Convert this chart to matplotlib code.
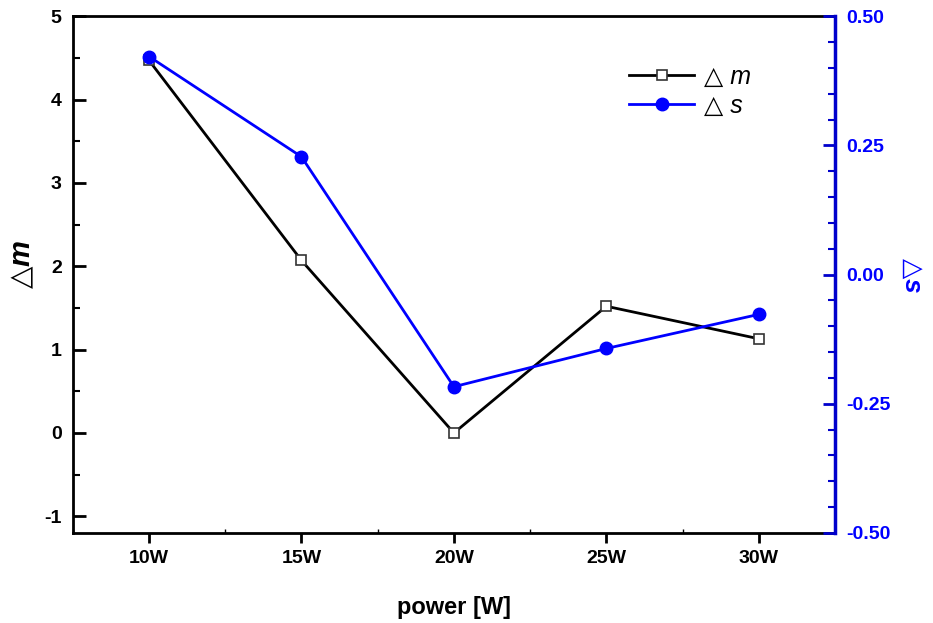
import numpy as np
import matplotlib.pyplot as plt
from matplotlib.ticker import MultipleLocator

plt.rcParams['font.family'] = ['Liberation Sans', 'DejaVu Sans']
plt.rcParams['axes.unicode_minus'] = False
plt.rcParams['mathtext.fontset'] = 'custom'
plt.rcParams['mathtext.rm'] = 'DejaVu Sans'
plt.rcParams['mathtext.it'] = 'Liberation Sans:italic:bold'

# power settings and the two measured changes
power = [10, 15, 20, 25, 30]
power_labels = ['10W', '15W', '20W', '25W', '30W']
delta_m = [4.47, 2.07, 0.0, 1.52, 1.13]
delta_s = [0.422, 0.228, -0.217, -0.143, -0.077]

fig = plt.figure(figsize=(9.33, 6.23), dpi=100)
ax = fig.add_axes([0.078, 0.1445, 0.817, 0.8295])
ax2 = ax.twinx()

l1, = ax.plot(power, delta_m, '-s', color='black', lw=2, markersize=7,
              markerfacecolor='white', markeredgecolor='#333333', markeredgewidth=1.2,
              label='\u25b3 m', zorder=3)
l2, = ax2.plot(power, delta_s, '-o', color='#0000ff', lw=2, markersize=9,
               label='\u25b3 s', zorder=3)

ax.set_xlim(7.5, 32.5)
ax.set_ylim(-1.2, 5)
ax2.set_ylim(-0.5, 0.5)

ax.set_xticks(power)
ax.set_xticklabels(power_labels)
ax.xaxis.set_minor_locator(MultipleLocator(2.5))
ax.yaxis.set_major_locator(MultipleLocator(1))
ax.yaxis.set_minor_locator(MultipleLocator(0.5))
ax2.yaxis.set_major_locator(MultipleLocator(0.25))
ax2.yaxis.set_minor_locator(MultipleLocator(0.05))
ax2.yaxis.set_major_formatter(plt.FormatStrFormatter('%.2f'))

ax.tick_params(axis='x', which='major', direction='out', length=7, width=2,
               labelsize=14, pad=5)
ax.tick_params(axis='x', which='minor', direction='in', length=3, width=1)
ax.tick_params(axis='y', which='major', direction='in', length=9, width=2,
               labelsize=14, pad=8)
ax.tick_params(axis='y', which='minor', direction='in', length=5, width=1.5)
ax2.tick_params(axis='y', which='major', direction='in', length=9, width=2,
                labelsize=14, pad=8, colors='#0000cc', labelcolor='#0000ff')
ax2.tick_params(axis='y', which='minor', direction='in', length=5, width=1.5,
                colors='#0000cc')

for lab in ax.get_xticklabels() + ax.get_yticklabels() + ax2.get_yticklabels():
    lab.set_fontweight('bold')

for side in ['left', 'bottom', 'top']:
    ax.spines[side].set_linewidth(2)
ax.spines['right'].set_visible(False)
for side in ['left', 'bottom', 'top']:
    ax2.spines[side].set_visible(False)
ax2.spines['right'].set_linewidth(2.5)
ax2.spines['right'].set_color('#0000cc')

ax.set_xlabel('power [W]', fontsize=17, fontweight='bold', labelpad=21)
ax.set_ylabel('$\\mathrm{\u25b3}\\mathit{m}$', fontsize=21)
ax.yaxis.set_label_coords(-0.048, 0.52)
ax2.set_ylabel('$\\mathrm{\u25b3}\\mathit{s}$', fontsize=19, color='#0000ff',
               rotation=270, labelpad=24)

leg = ax.legend(handles=[l1, l2], loc='upper right', bbox_to_anchor=(0.92, 0.95),
                frameon=False, fontsize=18, handlelength=2.6, handletextpad=0.4,
                labelspacing=0.2)
for t in leg.get_texts():
    t.set_fontstyle('italic')

fig.savefig('out.png', dpi=100)
